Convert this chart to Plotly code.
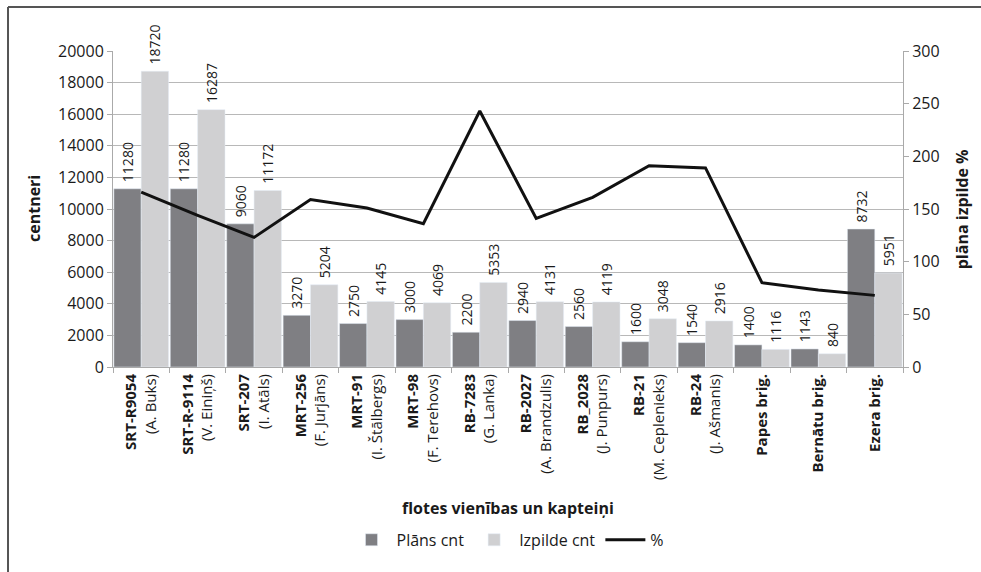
import plotly.graph_objects as go

units = ["SRT-R9054", "SRT-R-9114", "SRT-207", "MRT-256", "MRT-91", "MRT-98", "RB-7283",
         "RB-2027", "RB_2028", "RB-21", "RB-24", "Papes brig.", "Bernātu brig.", "Ezera brig."]
captains = ["(A. Buks)", "(V. Einiņš)", "(I. Atāls)", "(F. Jurjāns)", "(I. Štālbergs)", "(F. Terehovs)",
            "(G. Lanka)", "(A. Brandzulis)", "(J. Punpurs)", "(M. Ceplenieks)", "(J. Ašmanis)", "", "", ""]
plan = [11280, 11280, 9060, 3270, 2750, 3000, 2200, 2940, 2560, 1600, 1540, 1400, 1143, 8732]
actual = [18720, 16287, 11172, 5204, 4145, 4069, 5353, 4131, 4119, 3048, 2916, 1116, 840, 5951]
percent = [166, 144, 123, 159, 151, 136, 243, 141, 161, 191, 189, 80, 73, 68]

labels = [f"<b>{u}</b>" + (f"<br>{c}" if c else "") for u, c in zip(units, captains)]

FONT = "Open Sans"
DARK = "#7f7f83"
LIGHT = "#d0d0d2"
TXT = "#1a1a1a"

fig = go.Figure()
fig.add_trace(go.Bar(x=labels, y=plan, name="Plāns cnt", marker_color=DARK,
                     text=["\u00a0" + str(v) for v in plan], textposition="outside", textangle=-90,
                     constraintext="none",
                     textfont=dict(family=FONT, size=14, color=TXT), cliponaxis=False))
fig.add_trace(go.Bar(x=labels, y=actual, name="Izpilde cnt", marker_color=LIGHT,
                     text=["\u00a0" + str(v) for v in actual], textposition="outside", textangle=-90,
                     constraintext="none",
                     textfont=dict(family=FONT, size=14, color=TXT), cliponaxis=False))
fig.add_trace(go.Scatter(x=labels, y=percent, name="%", mode="lines", yaxis="y2",
                         line=dict(color="#111", width=3)))

fig.update_layout(
    width=981, height=572,
    margin=dict(l=113, r=78, t=51, b=205),
    paper_bgcolor="white", plot_bgcolor="white",
    font=dict(family=FONT, size=16, color=TXT),
    barmode="group", bargap=0.03, bargroupgap=0,
    showlegend=True,
    legend=dict(orientation="h", x=0.5, xanchor="center", y=-0.547, yanchor="middle",
                font=dict(family=FONT, size=16, color=TXT), itemwidth=40, traceorder="normal"),
    xaxis=dict(type="category", tickangle=-90, tickfont=dict(family=FONT, size=15, color=TXT),
               showline=True, linecolor="#aaa", ticks="outside", tickson="boundaries",
               ticklen=5, tickcolor="#aaa", showgrid=False),
    yaxis=dict(range=[0, 20000], dtick=2000, tickformat="d", showgrid=True, gridcolor="#b8b8b8",
               showline=True, linecolor="#aaa", ticks="outside", ticklen=5, tickcolor="#aaa",
               tickfont=dict(family=FONT, size=16, color=TXT), zeroline=False),
    yaxis2=dict(range=[0, 300], dtick=50, tickformat="d", overlaying="y", side="right", showgrid=False,
                showline=True, linecolor="#aaa", ticks="outside", ticklen=5, tickcolor="#aaa",
                tickfont=dict(family=FONT, size=16, color=TXT), zeroline=False),
)

fig.add_annotation(text="<b>centneri</b>", xref="paper", yref="paper", x=-0.10, y=0.5,
                   textangle=-90, showarrow=False, font=dict(family=FONT, size=16, color=TXT),
                   xanchor="center", yanchor="middle")
fig.add_annotation(text="<b>plāna izpilde %</b>", xref="paper", yref="paper", x=1.075, y=0.5,
                   textangle=-90, showarrow=False, font=dict(family=FONT, size=16, color=TXT),
                   xanchor="center", yanchor="middle")
fig.add_annotation(text="<b>flotes vienības un kapteiņi</b>", xref="paper", yref="paper",
                   x=0.5, y=-0.447, showarrow=False, font=dict(family=FONT, size=16, color=TXT),
                   xanchor="center", yanchor="middle")

# outer frame (left and top edges)
fig.add_shape(type="line", xref="paper", yref="paper", x0=-0.1329, x1=-0.1329, y0=1.139, y1=-0.65,
              line=dict(color="#555", width=2))
fig.add_shape(type="line", xref="paper", yref="paper", x0=-0.1329, x1=1.1, y0=1.139, y1=1.139,
              line=dict(color="#555", width=2))

fig.write_html("out.html", config={"displayModeBar": False},
               post_script="document.body.style.margin='0px';")
